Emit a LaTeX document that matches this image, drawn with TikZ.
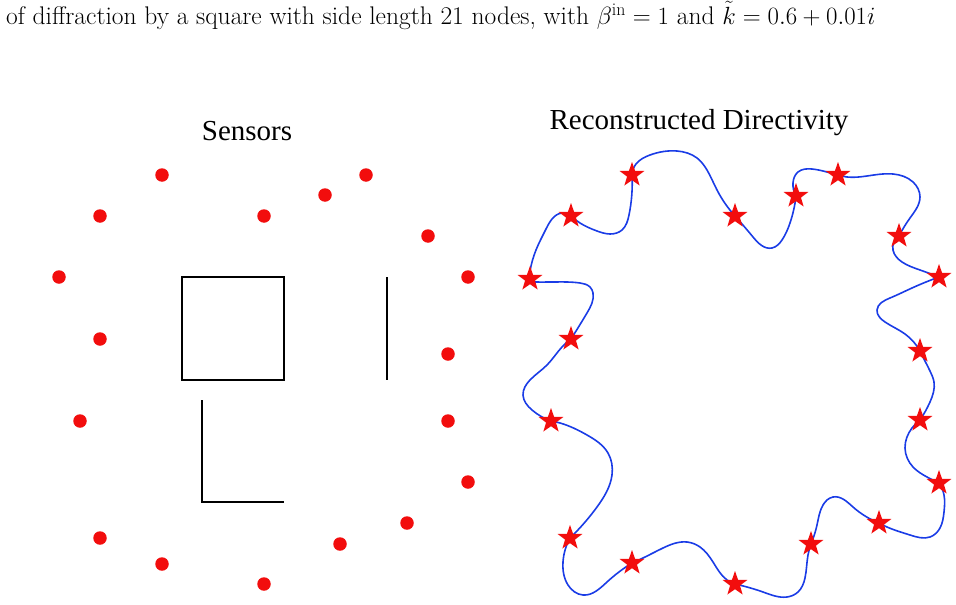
\documentclass[tikz,border=0pt]{standalone}
\usepackage{fontspec}
\usetikzlibrary{shapes.geometric,hobby}
\newfontfamily\titlefont{Liberation Serif}
\definecolor{cvblue}{HTML}{1A3CE6}
\definecolor{mkred}{HTML}{F20D0D}
\tikzset{
  sensor/.style={circle,fill=mkred,inner sep=0pt,minimum size=13.5pt},
  starmark/.style={star,star points=5,star point ratio=2.5,fill=mkred,inner sep=0pt,minimum size=26pt},
  wall/.style={black,line width=1.5pt,line join=miter},
  curve/.style={cvblue,line width=1.6pt,use Hobby shortcut},
  heading/.style={font=\titlefont\fontsize{29}{32}\selectfont,inner sep=0pt,text=black,anchor=base},
}
\begin{document}
\begin{tikzpicture}[x=1pt,y=-1pt]
\useasboundingbox (0,0) rectangle (956,605);
\node[anchor=base west,inner sep=0pt,font=\fontsize{25.5}{28}\selectfont] (caption) at (6,24.5) {of diffraction by a square with side length 21 nodes, with $\beta^{\mathrm{in}}=1$ and $\tilde{k}=0.6+0.01i$};
\node[heading] (tl) at (247,140) {Sensors};
\node[heading] (tr) at (699,129) {Reconstructed Directivity};
% scatterers
\draw[wall] (182,277) rectangle (284,380);
\draw[wall] (387,277) -- (387,380);
\draw[wall] (202,400) -- (202,502) -- (284,502);
% sensors
\foreach \x/\y [count=\i] in {162/175,100/216,59/277,100/339,80/421,100/538,162/564,264/584,340/544,407/523,468/482,448/421,448/354,468/277,428/236,366/175,325/195,264/216}
  \node[sensor] (d\i) at (\x,\y) {};
% star positions
\foreach \x/\y [count=\i] in {530/279,571/216,632/175,735/216,796/196,838/175,899/236,939/277,920/351,920/420,939/483,879/523,811/544,735/584,632/563,570/538,551/421,571/339}
  \coordinate (s\i) at (\x,\y);
\coordinate (e1) at (531,282);
\coordinate (b1) at (530,271);
% directivity curve, one piece between each pair of stars
\draw[curve] (b1) .. (536,250) .. (546,229) .. (562,213) .. (s2);
\draw[curve] (s2) .. (580,223) .. (597,231) .. (610,234) .. (622,230) .. (629,215) .. (s3);
\draw[curve] (s3) .. (636,164) .. (650,155) .. (677,151) .. (697,158) .. (707,170) .. (717,190) .. (s4);
\draw[curve] (s4) .. (753,237) .. (772,248) .. (782,240) .. (790,223) .. (s5);
\draw[curve] (s5) .. (793,183) .. (798,172) .. (812,169) .. (827,172) .. (s6);
\draw[curve] (s6) .. (847,177) .. (867,176) .. (893,174) .. (913,182) .. (920,197) .. (910,218) .. (s7);
\draw[curve] (s7) .. (893,250) .. (902,262) .. (920,270) .. (s8);
\draw[curve] (s8) .. (912,288) .. (890,298) .. (877,310) .. (885,322) .. (905,334) .. (s9);
\draw[curve] (s9) .. (925,361) .. (930,371) .. (934,382) .. (930,402) .. (s10);
\draw[curve] (s10) .. (912,428) .. (905,448) .. (913,467) .. (927,477) .. (s11);
\draw[curve] (s11) .. (944,495) .. (944,512) .. (940,528) .. (930,537) .. (910,535) .. (887,527) .. (s12);
\draw[curve] (s12) .. (853,507) .. (833,497) .. (823,505) .. (817,525) .. (s13);
\draw[curve] (s13) .. (808,555) .. (805,578) .. (798,592) .. (787,597) .. (763,592) .. (747,587) .. (s14);
\draw[curve] (s14) .. (727,580) .. (713,562) .. (700,547) .. (687,542) .. (663,548) .. (643,558) .. (s15);
\draw[curve] (s15) .. (607,582) .. (583,595) .. (568,585) .. (563,562) .. (s16);
\draw[curve] (s16) .. (597,507) .. (612,475) .. (608,453) .. (587,435) .. (560,423) .. (s17);
\draw[curve] (s17) .. (532,410) .. (523,395) .. (530,380) .. (547,365) .. (562,347) .. (s18);
\draw[curve] (s18) .. (587,313) .. (593,293) .. (590,287) .. (580,283) .. (553,282) .. (e1);
% star markers
\foreach \i in {1,...,18}
  \node[starmark] (m\i) at (s\i) {};
\end{tikzpicture}
\end{document}
